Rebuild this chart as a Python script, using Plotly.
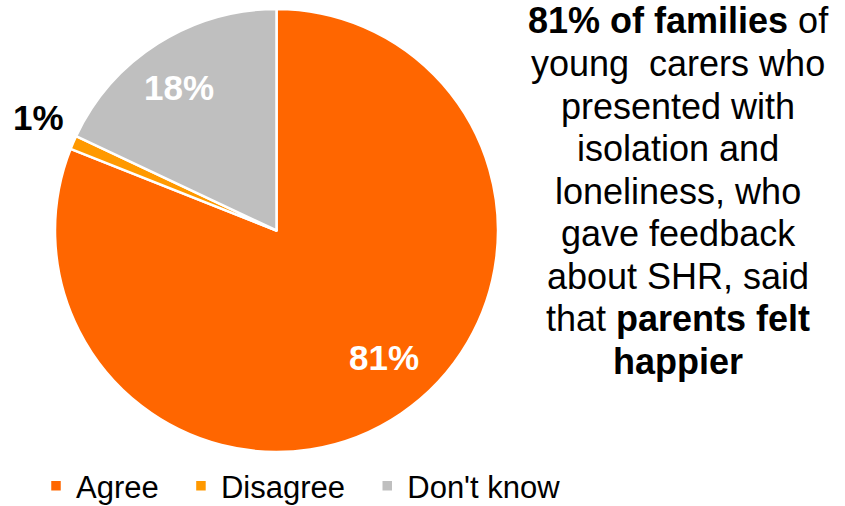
import math
import plotly.graph_objects as go

# Survey responses (percent of families)
categories = ["Agree", "Disagree", "Don't know"]
values = [81, 1, 18]
colors = ["#FF6600", "#FF9900", "#BFBFBF"]

# Headline text beside the pie, one entry per line
headline_lines = [
    "<b>81% of families</b> of",
    "young  carers who",
    "presented with",
    "isolation and",
    "loneliness, who",
    "gave feedback",
    "about SHR, said",
    "that <b>parents felt</b>",
    "<b>happier</b>",
]

W, H = 845, 506
FONT = "Liberation Sans, Arial, sans-serif"

# Pie geometry in pixels
cx, cy, R = 276.5, 230.5, 221.5

# Label placement per slice: (radius fraction, angle nudge in degrees, text colour)
label_style = {
    "Agree": (0.75, -6.0, "white"),
    "Disagree": (1.19, 2.0, "black"),
    "Don't know": (0.78, -2.0, "white"),
}

# Legend entries get a little trailing room so the items spread out
legend_names = [c + "\u00a0\u00a0" for c in categories]

fig = go.Figure()
fig.add_trace(go.Pie(
    labels=legend_names,
    values=values,
    sort=False,
    direction="clockwise",
    rotation=0,
    marker=dict(colors=colors, line=dict(color="white", width=2.5)),
    textinfo="none",
    hoverinfo="label+percent",
    domain=dict(x=[(cx - R) / W, (cx + R) / W],
                y=[1 - (cy + R) / H, 1 - (cy - R) / H]),
))

# Percentage labels placed at each slice's mid-angle
total = sum(values)
start = 0.0
annotations = []
for cat, v in zip(categories, values):
    frac_r, nudge, tcol = label_style[cat]
    mid = (start + v / 2) / total * 360 + nudge
    start += v
    px = cx + frac_r * R * math.sin(math.radians(mid))
    py = cy - frac_r * R * math.cos(math.radians(mid))
    annotations.append(dict(
        x=px / W, y=1 - py / H, xref="paper", yref="paper",
        text=f"<b>{round(v / total * 100)}%</b>", showarrow=False,
        xanchor="center", yanchor="middle",
        font=dict(family=FONT, size=35, color=tcol),
    ))

# Headline block, centred to the right of the pie
line_top, line_gap, text_cx = 21, 42.5, 678
for i, line in enumerate(headline_lines):
    annotations.append(dict(
        x=text_cx / W, y=1 - (line_top + i * line_gap) / H,
        xref="paper", yref="paper", text=line, showarrow=False,
        xanchor="center", yanchor="middle", borderpad=0,
        font=dict(family=FONT, size=36, color="black"),
    ))

fig.update_layout(
    width=W, height=H,
    margin=dict(l=0, r=0, t=0, b=0, autoexpand=False),
    paper_bgcolor="white", plot_bgcolor="white",
    showlegend=True,
    legend=dict(
        orientation="h", x=36 / W, y=1 - 486 / H,
        xanchor="left", yanchor="middle",
        font=dict(family=FONT, size=31, color="black"),
        traceorder="normal", bgcolor="rgba(0,0,0,0)",
    ),
    annotations=annotations,
)

fig.write_html("out.html")
